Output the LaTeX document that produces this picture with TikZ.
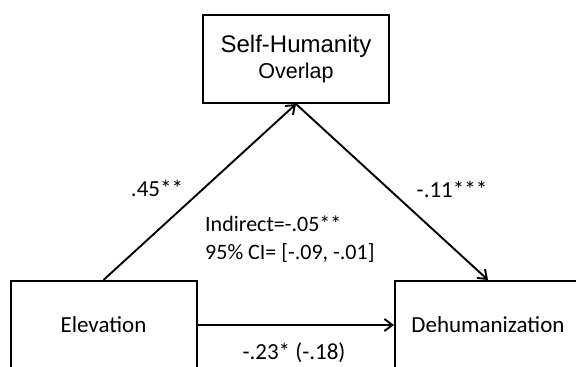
\documentclass[tikz,border=0pt]{standalone}
\usepackage{fontspec}
\setmainfont{Carlito}
\newfontfamily\helv{Liberation Sans}
\usetikzlibrary{arrows.meta}
\tikzset{
	varbox/.style={draw, line width=2pt, minimum width=186pt, minimum height=88pt, inner sep=0pt, font=\fontsize{23}{28}\selectfont},
	effect/.style={line width=1.9pt, -{Straight Barb[length=8pt, width=12pt, line width=1.9pt]}},
	coef/.style={inner sep=0pt, font=\fontsize{23}{28}\selectfont}
}

\begin{document}
\begin{tikzpicture}[x=1pt, y=1pt]
			%%%%% START %%%%%
			
			\useasboundingbox (0, 0) rectangle (576, 367);
			
			\node[varbox, align=center, font=\helv\fontsize{21.5}{26}\selectfont] (overlap) at (296, 308) {{\fontsize{24}{26}\selectfont Self-Humanity}\\Overlap};
			\node[varbox] (elev) at (103.5, 42) {Elevation};
			\node[varbox] (dehum) at (488, 42) {Dehumanization};
			
			\draw[effect] (elev.north) -- (overlap.south);
			\draw[effect] (overlap.south) -- (dehum.north);
			\draw[effect] (elev.east) -- (dehum.west);
			
			\node[coef] (apath) at (157, 179) {.45**};
			\node[coef] (bpath) at (452, 178) {-.11***};
			\node[coef] (cpath) at (294, 14) {-.23* (-.18)};
			\node[coef, anchor=west, align=left, font=\fontsize{22}{28}\selectfont] (indirect) at (205, 128) {Indirect=-.05**\\95\% CI= [-.09, -.01]};
			
			%%%%% END %%%%%
\end{tikzpicture}
\end{document}
